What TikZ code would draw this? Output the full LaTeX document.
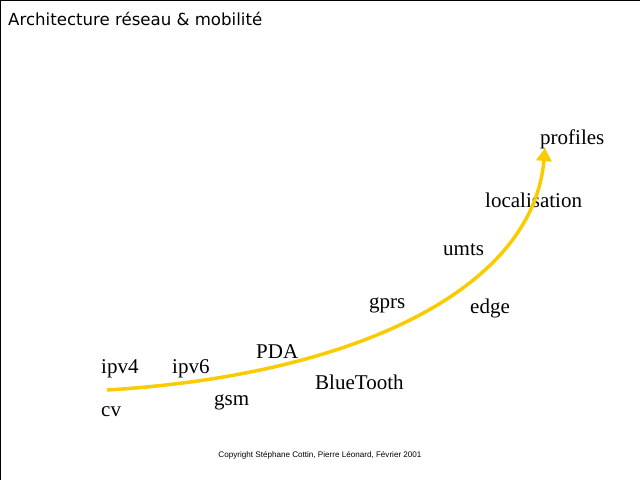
\documentclass[tikz,border=0pt]{standalone}
\usepackage{fontspec}
\setmainfont{Liberation Serif}
\newfontfamily\titlefont{DejaVu Sans}
\newfontfamily\smallfont{Liberation Sans}
\usetikzlibrary{arrows.meta}
\definecolor{curvegold}{RGB}{250,204,0}
\begin{document}
\begin{tikzpicture}[x=1pt,y=-1pt,
    lbl/.style={anchor=base west,inner sep=0pt,font=\fontsize{21}{21}\selectfont}]
  \useasboundingbox (0,0) rectangle (640,480);
  \draw[line width=1.5pt] (0,480) -- (0,0) -- (640,0);
  \draw
    (8,25) node[anchor=base west,inner sep=0pt,font=\titlefont\fontsize{16.6}{17}\selectfont] (title){Architecture réseau \& mobilité}
    (540,144) node[lbl] (profiles){profiles}
    (485,207) node[lbl] (localisation){localisation}
    (443,255) node[lbl] (umts){umts}
    (369,308) node[lbl] (gprs){gprs}
    (470,313) node[lbl] (edge){edge}
    (256,358) node[lbl] (pda){PDA}
    (315,389) node[lbl] (bluetooth){BlueTooth}
    (101,373) node[lbl] (ipv4){ipv4}
    (172,373) node[lbl] (ipv6){ipv6}
    (214,405) node[lbl] (gsm){gsm}
    (101,416) node[lbl] (cv){cv}
    (320,457) node[anchor=base,inner sep=0pt,font=\smallfont\fontsize{8.1}{9}\selectfont] (copyright){Copyright Stéphane Cottin, Pierre Léonard, Février 2001};
  \coordinate (start) at (107,390);
  \coordinate (end) at (545,148);
  \begin{scope}[-{Triangle[width=15pt,length=13pt]}]
    \draw[curvegold,line width=3.5pt] (start) .. controls (357,375) and (533,288) .. (end);
  \end{scope}
\end{tikzpicture}
\end{document}
